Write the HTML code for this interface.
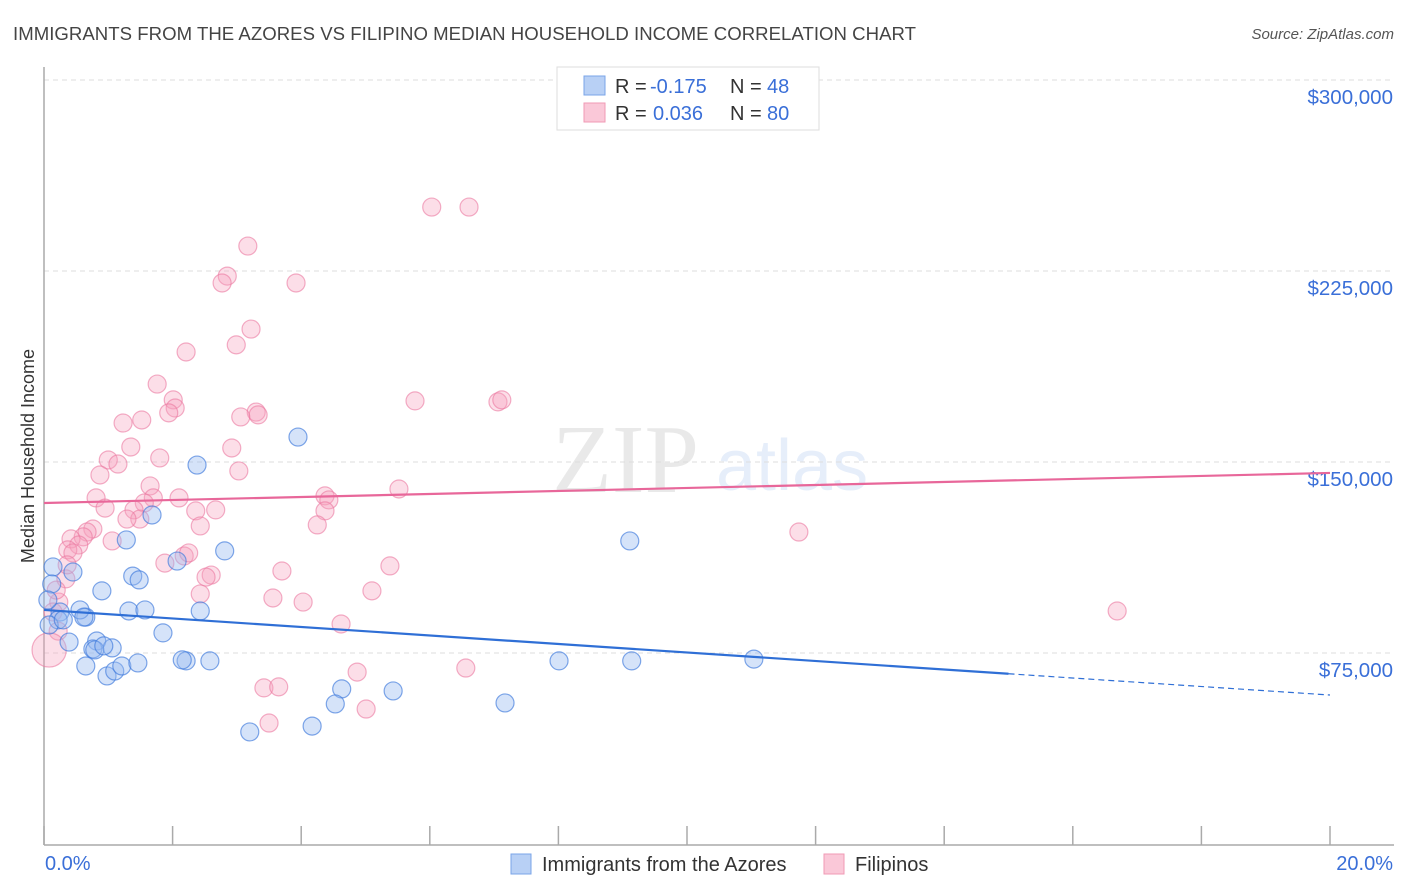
<!DOCTYPE html>
<html><head><meta charset="utf-8"><style>
body{margin:0;background:#fff;font-family:"Liberation Sans",sans-serif;}
svg{display:block}
</style></head><body>
<svg id="chart" width="1406" height="892" xmlns="http://www.w3.org/2000/svg">
<text x="13" y="40" font-size="18.6" fill="#444" textLength="903">IMMIGRANTS FROM THE AZORES VS FILIPINO MEDIAN HOUSEHOLD INCOME CORRELATION CHART</text>
<text x="1394" y="39" font-size="15" fill="#555" font-style="italic" text-anchor="end">Source: ZipAtlas.com</text>
<g opacity="0.18">
<text x="552" y="492" font-family="Liberation Serif,serif" font-size="98" fill="#888">ZIP</text>
<text x="716" y="490" font-size="72" fill="#7aa4e8">atlas</text>
</g>
<g id="grid"></g>
<line x1="44" y1="67" x2="44" y2="845" stroke="#aaa" stroke-width="1.5"/>
<line x1="44" y1="845" x2="1394" y2="845" stroke="#aaa" stroke-width="1.5"/>
<g id="xticks"></g>
<text x="34" y="456" font-size="18" fill="#333" text-anchor="middle" transform="rotate(-90 34 456)">Median Household Income</text>
<g id="pts"></g>
<g id="trends"></g>
<g>
<rect x="557" y="67" width="262" height="63" fill="#fff" stroke="#ddd"/>
<rect x="584" y="76" width="21" height="19" fill="#b8d0f5" stroke="#7aa4e8"/>
<rect x="584" y="103" width="21" height="19" fill="#fac8d8" stroke="#f09ab5"/>
<text x="615" y="93" font-size="20" fill="#333">R = <tspan x="650" fill="#3a6fd8">-0.175</tspan><tspan x="730">N = </tspan><tspan x="767" fill="#3a6fd8">48</tspan></text>
<text x="615" y="120" font-size="20" fill="#333">R = <tspan x="653" fill="#3a6fd8">0.036</tspan><tspan x="730">N = </tspan><tspan x="767" fill="#3a6fd8">80</tspan></text>
</g>
<text x="45" y="870" font-size="20" fill="#3a6fd8">0.0%</text>
<text x="1393" y="870" font-size="20" fill="#3a6fd8" text-anchor="end">20.0%</text>
<g>
<rect x="511" y="854" width="20" height="20" fill="#b8d0f5" stroke="#7aa4e8"/>
<text x="542" y="871" font-size="20" fill="#333">Immigrants from the Azores</text>
<rect x="824" y="854" width="20" height="20" fill="#fac8d8" stroke="#f09ab5"/>
<text x="855" y="871" font-size="20" fill="#333">Filipinos</text>
</g>
</svg>
<script>
const yTicks=[75000,150000,225000,300000];
const yTickLabels=["$75,000","$150,000","$225,000","$300,000"];
const xTicks=[0,2,4,6,8,10,12,14,16,18,20];
const blueX=[.14,.12,.45,.65,.56,.25,.22,.39,.90,1.28,1.68,1.38,1.48,1.32,1.57,1.85,2.07,2.38,2.81,2.43,2.21,2.15,2.58,3.95,.62,.82,.76,1.06,.79,.93,.65,.98,1.10,1.21,1.46,3.20,4.17,4.63,4.53,5.43,7.17,8.01,9.11,9.14,11.04,.08,.06,.30];
const blueY=[108800,102100,106800,89100,91900,91100,88000,79300,99400,119400,129200,105200,103700,91500,91900,82900,111100,148800,115100,91500,71900,72300,71900,159800,89100,79700,76600,77000,76200,77800,69900,66000,67900,69900,71100,44000,46300,60900,55000,60100,55400,71900,119000,71900,72600,86000,95800,88000];
const pinkX=[6.03,6.61,3.17,2.85,2.77,3.92,3.22,2.99,2.21,1.76,2.01,2.04,1.94,3.30,3.33,3.06,1.52,1.23,1.35,2.92,1.80,1.00,1.15,.87,3.03,1.65,.81,1.70,2.10,1.56,4.37,4.43,5.52,5.77,7.06,7.12,.95,1.40,1.49,1.29,2.36,2.67,4.37,.76,.67,.61,.42,.54,.37,.45,1.06,1.88,2.18,2.25,2.43,4.25,11.74,3.70,5.38,2.60,2.52,2.43,3.56,4.03,5.10,.34,.36,.23,.14,.22,4.62,4.87,5.01,6.56,3.42,3.65,3.50,16.69,.19,.08];
const pinkY=[250100,250100,234800,223000,220300,220300,202200,196000,193200,180600,174400,171200,169300,169600,168500,167700,166500,165300,155900,155500,151600,150800,149200,144900,146500,140600,135900,135900,135900,133900,136700,135100,139400,174000,173600,174400,131900,131200,127600,127600,130800,131200,130800,123700,122500,120600,119800,117400,115500,114300,119000,110300,113100,114300,124900,125300,122500,107200,109200,105600,104800,98200,96600,95000,99400,104100,109600,95000,91100,83600,86400,67500,53000,69100,61300,61700,47500,91500,99700,76200];
const pinkSize=pinkX.map((_,i)=>i===pinkX.length-1?1.9:1);
const blueTrend=[91900,58500];
const pinkTrend=[133900,145700];
const blueSolidEnd=15.0;
const NS="http://www.w3.org/2000/svg";
const X=p=>44+p/20*1286;
const Y=v=>844-v*191/75000;
function mk(t,a,parent){const e=document.createElementNS(NS,t);for(const k in a)e.setAttribute(k,a[k]);parent.appendChild(e);return e;}
const grid=document.getElementById('grid');
yTicks.forEach((v,i)=>{
 const l=mk('line',{x1:44,x2:1394,y1:Y(v),y2:Y(v),stroke:'#ddd','stroke-dasharray':'5,4'},grid);
 
 
 const t=mk('text',{x:1393,y:Y(v)+24,'font-size':20.5,fill:'#3a6fd8','text-anchor':'end'},grid);
 t.textContent=yTickLabels[i];
 
 
});
const xt=document.getElementById('xticks');
xTicks.forEach(p=>{
 const l=mk('line',{x1:X(p),x2:X(p),y1:826,y2:845,stroke:'#aaa','stroke-width':1.5},xt);
 
 
});
const pts=document.getElementById('pts');
pinkX.forEach((x,i)=>{
 const c=mk('circle',{cx:X(x),cy:Y(pinkY[i]),r:9*pinkSize[i],fill:'rgba(245,160,190,0.35)',stroke:'rgba(235,120,160,0.6)','stroke-width':1.2},pts);
 
 
});
blueX.forEach((x,i)=>{
 const c=mk('circle',{cx:X(x),cy:Y(blueY[i]),r:9,fill:'rgba(150,185,240,0.4)',stroke:'rgba(60,120,220,0.65)','stroke-width':1.2},pts);
 
 
});
const tr=document.getElementById('trends');
const bAt=p=>blueTrend[0]+(blueTrend[1]-blueTrend[0])*p/20;
let l=mk('line',{x1:X(0),y1:Y(pinkTrend[0]),x2:X(20),y2:Y(pinkTrend[1]),stroke:'#e8679a','stroke-width':2.2},tr);


l=mk('line',{x1:X(0),y1:Y(bAt(0)),x2:X(blueSolidEnd),y2:Y(bAt(blueSolidEnd)),stroke:'#2f6fd6','stroke-width':2.2},tr);


l=mk('line',{x1:X(blueSolidEnd),y1:Y(bAt(blueSolidEnd)),x2:X(20),y2:Y(bAt(20)),stroke:'#2f6fd6','stroke-width':1.2,'stroke-dasharray':'6,4'},tr);


</script>
</body></html>
